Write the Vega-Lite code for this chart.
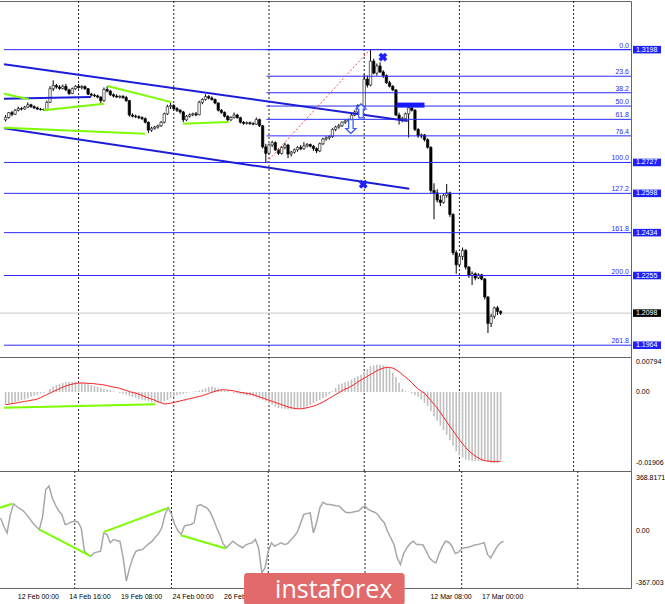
{
"$schema": "https://vega.github.io/schema/vega-lite/v6.json",
"padding": {"left": -6, "top": 0, "right": 0, "bottom": 0},
"background": "white",
"spacing": 0,
"bounds": "flush",
"config": {
 "view": {"stroke": "#666", "strokeWidth": 1},
 "axis": {"labelFont": "Liberation Sans", "labelFontSize": 7, "labelColor": "#000", "domainColor": "#000", "tickColor": "#000", "tickSize": 3, "grid": false, "labelPadding": 2, "labelOverlap": false, "labelFlush": false},
 "text": {"font": "Liberation Sans", "fontSize": 7},
 "concat": {"spacing": 0}
},
"datasets": {
 "gr": [{"i":23},{"i":53},{"i":83},{"i":113},{"i":143},{"i":179}],
 "xl": [{"i":5,"t":"12 Feb 00:00"},{"i":21,"t":"14 Feb 16:00"},{"i":37,"t":"19 Feb 08:00"},{"i":53,"t":"24 Feb 00:00"},{"i":69,"t":"26 Feb 16:00"},{"i":133,"t":"12 Mar 08:00"},{"i":149,"t":"17 Mar 00:00"}],
 "ml": [{"v":0.00794,"t":"0.00794"},{"v":0,"t":"0.00"},{"v":-0.01906,"t":"-0.01906"}],
 "cl": [{"v":368.8171,"t":"368.8171"},{"v":0,"t":"0.00"},{"v":-367.003,"t":"-367.003"}],
 "lv": [
  {"p":1.3198,"from":-0.5,"lbl":null},
  {"p":1.3198,"from":82.2,"lbl":"0.0"},
  {"p":1.3087,"from":82.2,"lbl":"23.6"},
  {"p":1.3018,"from":82.2,"lbl":"38.2"},
  {"p":1.29625,"from":82.2,"lbl":"50.0"},
  {"p":1.2907,"from":82.2,"lbl":"61.8"},
  {"p":1.2838,"from":82.2,"lbl":"76.4"},
  {"p":1.2727,"from":-0.5,"lbl":"100.0"},
  {"p":1.2598,"from":-0.5,"lbl":"127.2"},
  {"p":1.2434,"from":-0.5,"lbl":"161.8"},
  {"p":1.2255,"from":-0.5,"lbl":"200.0"},
  {"p":1.1964,"from":-0.5,"lbl":"261.8"}
 ],
 "tags": [
  {"p":1.3198,"t":"1.3198","k":"b"},
  {"p":1.2727,"t":"1.2727","k":"b"},
  {"p":1.2598,"t":"1.2598","k":"b"},
  {"p":1.2434,"t":"1.2434","k":"b"},
  {"p":1.2255,"t":"1.2255","k":"b"},
  {"p":1.1964,"t":"1.1964","k":"b"},
  {"p":1.2098,"t":"1.2098","k":"k"}
 ],
 "zone": [{"i1":123.3,"i2":132,"p1":1.2956,"p2":1.2977}],
 "ps": [
  {"s":"g1","i":-0.5,"p":1.3014,"c":"g"},{"s":"g1","i":7.3,"p":1.2991,"c":"g"},
  {"s":"b1","i":-0.5,"p":1.2993,"c":"b"},{"s":"b1","i":26.9,"p":1.3000,"c":"b"},
  {"s":"g2","i":11.9,"p":1.2945,"c":"g"},{"s":"g2","i":31.0,"p":1.2972,"c":"g"},
  {"s":"g3","i":32.1,"p":1.3046,"c":"g"},{"s":"g3","i":52.2,"p":1.2979,"c":"g"},
  {"s":"g4","i":-0.5,"p":1.2872,"c":"g"},{"s":"g4","i":43.9,"p":1.2847,"c":"g"},
  {"s":"g5","i":55.9,"p":1.2889,"c":"g"},{"s":"g5","i":70.3,"p":1.2896,"c":"g"},
  {"s":"u","i":-0.5,"p":1.3137,"c":"b"},{"s":"u","i":126.7,"p":1.2900,"c":"b"},
  {"s":"d","i":-0.5,"p":1.2870,"c":"b"},{"s":"d","i":127.2,"p":1.2617,"c":"b"},
  {"s":"r","i":82.2,"p":1.2727,"c":"r"},{"s":"r","i":114.8,"p":1.3198,"c":"r"}
 ],
 "mk": [
  {"t":"up","i":112,"p":1.2942},
  {"t":"dn","i":108.8,"p":1.2877},
  {"t":"x","i":118.9,"p":1.3167},
  {"t":"x","i":112.7,"p":1.2636}
 ],
 "ms": [{"i":-0.5,"v":-0.0042},{"i":47.1,"v":-0.0033}],
 "cs": [
  {"s":1,"i":-0.5,"v":160},{"s":1,"i":3.6,"v":189},
  {"s":2,"i":11.9,"v":9},{"s":2,"i":27.9,"v":-178},
  {"s":3,"i":32.1,"v":-8},{"s":3,"i":52,"v":160},
  {"s":4,"i":55.9,"v":-31},{"s":4,"i":69.8,"v":-124}
 ],
 "k": [
{"i":0,"o":1.2905,"h":1.2925,"l":1.2898,"c":1.2915,"m":-0.0034,"s":-0.0034,"cci":90},
{"i":1,"o":1.2915,"h":1.2938,"l":1.2910,"c":1.2935,"m":-0.0032,"s":-0.0033,"cci":30},
{"i":2,"o":1.2935,"h":1.2942,"l":1.2920,"c":1.2928,"m":-0.0030,"s":-0.0031,"cci":-15},
{"i":3,"o":1.2928,"h":1.2950,"l":1.2925,"c":1.2945,"m":-0.0027,"s":-0.0030,"cci":110},
{"i":4,"o":1.2945,"h":1.2960,"l":1.2940,"c":1.2952,"m":-0.0024,"s":-0.0028,"cci":189},
{"i":5,"o":1.2952,"h":1.2958,"l":1.2944,"c":1.2950,"m":-0.0022,"s":-0.0027,"cci":170},
{"i":6,"o":1.2950,"h":1.2963,"l":1.2947,"c":1.2958,"m":-0.0020,"s":-0.0025,"cci":155},
{"i":7,"o":1.2958,"h":1.2978,"l":1.2955,"c":1.2968,"m":-0.0017,"s":-0.0024,"cci":140},
{"i":8,"o":1.2968,"h":1.2972,"l":1.2955,"c":1.2960,"m":-0.0013,"s":-0.0022,"cci":115},
{"i":9,"o":1.2960,"h":1.2965,"l":1.2950,"c":1.2955,"m":-0.0010,"s":-0.0021,"cci":85},
{"i":10,"o":1.2955,"h":1.2960,"l":1.2946,"c":1.2950,"m":-0.0007,"s":-0.0019,"cci":55},
{"i":11,"o":1.2950,"h":1.2955,"l":1.2944,"c":1.2948,"m":-0.0004,"s":-0.0015,"cci":30},
{"i":12,"o":1.2948,"h":1.2952,"l":1.2943,"c":1.2946,"m":-0.0002,"s":-0.0011,"cci":9},
{"i":13,"o":1.2946,"h":1.2985,"l":1.2944,"c":1.2978,"m":0.0001,"s":-0.0007,"cci":95},
{"i":14,"o":1.2978,"h":1.3045,"l":1.2975,"c":1.3035,"m":0.0008,"s":-0.0003,"cci":289},
{"i":15,"o":1.3035,"h":1.3070,"l":1.3025,"c":1.3048,"m":0.0015,"s":0.0001,"cci":313},
{"i":16,"o":1.3048,"h":1.3055,"l":1.3035,"c":1.3042,"m":0.0019,"s":0.0005,"cci":231},
{"i":17,"o":1.3042,"h":1.3050,"l":1.3030,"c":1.3036,"m":0.0022,"s":0.0009,"cci":180},
{"i":18,"o":1.3036,"h":1.3052,"l":1.3032,"c":1.3045,"m":0.0024,"s":0.0013,"cci":140},
{"i":19,"o":1.3045,"h":1.3055,"l":1.3025,"c":1.3030,"m":0.0026,"s":0.0016,"cci":114},
{"i":20,"o":1.3030,"h":1.3035,"l":1.3008,"c":1.3015,"m":0.0027,"s":0.0019,"cci":44},
{"i":21,"o":1.3015,"h":1.3040,"l":1.3012,"c":1.3035,"m":0.0027,"s":0.0021,"cci":50},
{"i":22,"o":1.3035,"h":1.3050,"l":1.3030,"c":1.3045,"m":0.0027,"s":0.0023,"cci":62},
{"i":23,"o":1.3045,"h":1.3055,"l":1.3035,"c":1.3040,"m":0.0026,"s":0.0024,"cci":68},
{"i":24,"o":1.3040,"h":1.3050,"l":1.3032,"c":1.3044,"m":0.0025,"s":0.0024,"cci":60},
{"i":25,"o":1.3044,"h":1.3048,"l":1.3030,"c":1.3035,"m":0.0023,"s":0.0024,"cci":20},
{"i":26,"o":1.3035,"h":1.3038,"l":1.3008,"c":1.3012,"m":0.0021,"s":0.0023,"cci":-143},
{"i":27,"o":1.3012,"h":1.3018,"l":1.3002,"c":1.3008,"m":0.0019,"s":0.0023,"cci":-165},
{"i":28,"o":1.3008,"h":1.3014,"l":1.3000,"c":1.3005,"m":0.0016,"s":0.0022,"cci":-178},
{"i":29,"o":1.3005,"h":1.3010,"l":1.2995,"c":1.3000,"m":0.0014,"s":0.0021,"cci":-155},
{"i":30,"o":1.3000,"h":1.3004,"l":1.2972,"c":1.2985,"m":0.0011,"s":0.0020,"cci":-148},
{"i":31,"o":1.2985,"h":1.3040,"l":1.2980,"c":1.3032,"m":0.0009,"s":0.0019,"cci":-143},
{"i":32,"o":1.3032,"h":1.3046,"l":1.3020,"c":1.3025,"m":0.0007,"s":0.0017,"cci":-15},
{"i":33,"o":1.3025,"h":1.3030,"l":1.3005,"c":1.3010,"m":0.0005,"s":0.0015,"cci":-26},
{"i":34,"o":1.3010,"h":1.3015,"l":1.2998,"c":1.3004,"m":0.0002,"s":0.0013,"cci":-84},
{"i":35,"o":1.3004,"h":1.3012,"l":1.2996,"c":1.3000,"m":0.0000,"s":0.0012,"cci":-61},
{"i":36,"o":1.3000,"h":1.3008,"l":1.2994,"c":1.3003,"m":-0.0003,"s":0.0010,"cci":-68},
{"i":37,"o":1.3003,"h":1.3008,"l":1.2992,"c":1.2998,"m":-0.0005,"s":0.0007,"cci":-73},
{"i":38,"o":1.2998,"h":1.3005,"l":1.2980,"c":1.2985,"m":-0.0007,"s":0.0004,"cci":-190},
{"i":39,"o":1.2985,"h":1.2988,"l":1.2918,"c":1.2925,"m":-0.0010,"s":0.0001,"cci":-353},
{"i":40,"o":1.2925,"h":1.2932,"l":1.2915,"c":1.2920,"m":-0.0013,"s":-0.0001,"cci":-260},
{"i":41,"o":1.2920,"h":1.2927,"l":1.2912,"c":1.2918,"m":-0.0015,"s":-0.0003,"cci":-190},
{"i":42,"o":1.2918,"h":1.2924,"l":1.2908,"c":1.2914,"m":-0.0018,"s":-0.0006,"cci":-143},
{"i":43,"o":1.2914,"h":1.2920,"l":1.2904,"c":1.2910,"m":-0.0020,"s":-0.0009,"cci":-135},
{"i":44,"o":1.2910,"h":1.2915,"l":1.2890,"c":1.2895,"m":-0.0023,"s":-0.0013,"cci":-131},
{"i":45,"o":1.2895,"h":1.2898,"l":1.2850,"c":1.2862,"m":-0.0025,"s":-0.0016,"cci":-110},
{"i":46,"o":1.2862,"h":1.2876,"l":1.2855,"c":1.2870,"m":-0.0027,"s":-0.0019,"cci":-90},
{"i":47,"o":1.2870,"h":1.2880,"l":1.2864,"c":1.2875,"m":-0.0028,"s":-0.0022,"cci":-73},
{"i":48,"o":1.2875,"h":1.2885,"l":1.2868,"c":1.2880,"m":-0.0029,"s":-0.0026,"cci":-45},
{"i":49,"o":1.2880,"h":1.2900,"l":1.2875,"c":1.2895,"m":-0.0028,"s":-0.0029,"cci":-20},
{"i":50,"o":1.2895,"h":1.2935,"l":1.2890,"c":1.2930,"m":-0.0025,"s":-0.0032,"cci":21},
{"i":51,"o":1.2930,"h":1.2968,"l":1.2925,"c":1.2960,"m":-0.0021,"s":-0.0031,"cci":114},
{"i":52,"o":1.2960,"h":1.2977,"l":1.2950,"c":1.2965,"m":-0.0016,"s":-0.0030,"cci":161},
{"i":53,"o":1.2965,"h":1.2970,"l":1.2945,"c":1.2952,"m":-0.0012,"s":-0.0028,"cci":114},
{"i":54,"o":1.2952,"h":1.2958,"l":1.2938,"c":1.2945,"m":-0.0009,"s":-0.0026,"cci":44},
{"i":55,"o":1.2945,"h":1.2950,"l":1.2930,"c":1.2938,"m":-0.0007,"s":-0.0024,"cci":0},
{"i":56,"o":1.2938,"h":1.2942,"l":1.2895,"c":1.2905,"m":-0.0005,"s":-0.0022,"cci":-26},
{"i":57,"o":1.2905,"h":1.2925,"l":1.2900,"c":1.2920,"m":-0.0003,"s":-0.0020,"cci":33},
{"i":58,"o":1.2920,"h":1.2932,"l":1.2914,"c":1.2926,"m":-0.0001,"s":-0.0018,"cci":40},
{"i":59,"o":1.2926,"h":1.2935,"l":1.2920,"c":1.2930,"m":0.0001,"s":-0.0016,"cci":44},
{"i":60,"o":1.2930,"h":1.2938,"l":1.2920,"c":1.2926,"m":0.0002,"s":-0.0014,"cci":56},
{"i":61,"o":1.2926,"h":1.2985,"l":1.2924,"c":1.2978,"m":0.0004,"s":-0.0012,"cci":173},
{"i":62,"o":1.2978,"h":1.2995,"l":1.2970,"c":1.2990,"m":0.0007,"s":-0.0010,"cci":184},
{"i":63,"o":1.2990,"h":1.3012,"l":1.2985,"c":1.3002,"m":0.0010,"s":-0.0007,"cci":170},
{"i":64,"o":1.3002,"h":1.3008,"l":1.2990,"c":1.2996,"m":0.0013,"s":-0.0004,"cci":161},
{"i":65,"o":1.2996,"h":1.3003,"l":1.2985,"c":1.2990,"m":0.0015,"s":-0.0001,"cci":130},
{"i":66,"o":1.2990,"h":1.2994,"l":1.2970,"c":1.2975,"m":0.0012,"s":0.0002,"cci":80},
{"i":67,"o":1.2975,"h":1.2978,"l":1.2940,"c":1.2945,"m":0.0009,"s":0.0004,"cci":21},
{"i":68,"o":1.2945,"h":1.2950,"l":1.2930,"c":1.2936,"m":0.0006,"s":0.0006,"cci":-30},
{"i":69,"o":1.2936,"h":1.2940,"l":1.2915,"c":1.2920,"m":0.0004,"s":0.0006,"cci":-90},
{"i":70,"o":1.2920,"h":1.2924,"l":1.2900,"c":1.2905,"m":0.0002,"s":0.0005,"cci":-119},
{"i":71,"o":1.2905,"h":1.2920,"l":1.2900,"c":1.2915,"m":0.0000,"s":0.0004,"cci":-96},
{"i":72,"o":1.2915,"h":1.2935,"l":1.2910,"c":1.2925,"m":-0.0003,"s":0.0003,"cci":-73},
{"i":73,"o":1.2925,"h":1.2930,"l":1.2910,"c":1.2914,"m":-0.0004,"s":0.0001,"cci":-90},
{"i":74,"o":1.2914,"h":1.2918,"l":1.2890,"c":1.2895,"m":-0.0006,"s":-0.0001,"cci":-105},
{"i":75,"o":1.2895,"h":1.2900,"l":1.2884,"c":1.2890,"m":-0.0007,"s":-0.0002,"cci":-119},
{"i":76,"o":1.2890,"h":1.2898,"l":1.2885,"c":1.2893,"m":-0.0009,"s":-0.0004,"cci":-100},
{"i":77,"o":1.2893,"h":1.2898,"l":1.2884,"c":1.2889,"m":-0.0010,"s":-0.0005,"cci":-90},
{"i":78,"o":1.2889,"h":1.2895,"l":1.2882,"c":1.2887,"m":-0.0012,"s":-0.0007,"cci":-84},
{"i":79,"o":1.2887,"h":1.2915,"l":1.2884,"c":1.2906,"m":-0.0015,"s":-0.0010,"cci":-61},
{"i":80,"o":1.2906,"h":1.2910,"l":1.2875,"c":1.2880,"m":-0.0018,"s":-0.0013,"cci":-119},
{"i":81,"o":1.2880,"h":1.2884,"l":1.2785,"c":1.2792,"m":-0.0021,"s":-0.0016,"cci":-295},
{"i":82,"o":1.2792,"h":1.2805,"l":1.2727,"c":1.2765,"m":-0.0025,"s":-0.0019,"cci":-260},
{"i":83,"o":1.2765,"h":1.2806,"l":1.2760,"c":1.2800,"m":-0.0030,"s":-0.0022,"cci":-143},
{"i":84,"o":1.2800,"h":1.2818,"l":1.2792,"c":1.2810,"m":-0.0034,"s":-0.0025,"cci":-84},
{"i":85,"o":1.2810,"h":1.2815,"l":1.2775,"c":1.2780,"m":-0.0039,"s":-0.0028,"cci":-108},
{"i":86,"o":1.2780,"h":1.2786,"l":1.2758,"c":1.2765,"m":-0.0043,"s":-0.0031,"cci":-95},
{"i":87,"o":1.2765,"h":1.2796,"l":1.2760,"c":1.2790,"m":-0.0044,"s":-0.0034,"cci":-84},
{"i":88,"o":1.2790,"h":1.2810,"l":1.2782,"c":1.2800,"m":-0.0045,"s":-0.0037,"cci":-96},
{"i":89,"o":1.2800,"h":1.2805,"l":1.2745,"c":1.2762,"m":-0.0046,"s":-0.0040,"cci":-90},
{"i":90,"o":1.2762,"h":1.2775,"l":1.2752,"c":1.2770,"m":-0.0047,"s":-0.0042,"cci":-65},
{"i":91,"o":1.2770,"h":1.2785,"l":1.2764,"c":1.2780,"m":-0.0047,"s":-0.0044,"cci":-40},
{"i":92,"o":1.2780,"h":1.2795,"l":1.2772,"c":1.2790,"m":-0.0046,"s":-0.0045,"cci":-10},
{"i":93,"o":1.2790,"h":1.2800,"l":1.2778,"c":1.2784,"m":-0.0045,"s":-0.0045,"cci":50},
{"i":94,"o":1.2784,"h":1.2812,"l":1.2780,"c":1.2796,"m":-0.0043,"s":-0.0044,"cci":114},
{"i":95,"o":1.2796,"h":1.2808,"l":1.2790,"c":1.2802,"m":-0.0039,"s":-0.0042,"cci":120},
{"i":96,"o":1.2802,"h":1.2806,"l":1.2790,"c":1.2795,"m":-0.0035,"s":-0.0040,"cci":126},
{"i":97,"o":1.2795,"h":1.2800,"l":1.2775,"c":1.2785,"m":-0.0030,"s":-0.0038,"cci":-15},
{"i":98,"o":1.2785,"h":1.2790,"l":1.2766,"c":1.2775,"m":-0.0025,"s":-0.0035,"cci":56},
{"i":99,"o":1.2775,"h":1.2810,"l":1.2770,"c":1.2805,"m":-0.0021,"s":-0.0031,"cci":161},
{"i":100,"o":1.2805,"h":1.2830,"l":1.2800,"c":1.2825,"m":-0.0016,"s":-0.0027,"cci":200},
{"i":101,"o":1.2825,"h":1.2836,"l":1.2818,"c":1.2830,"m":-0.0012,"s":-0.0022,"cci":185},
{"i":102,"o":1.2830,"h":1.2840,"l":1.2822,"c":1.2835,"m":-0.0005,"s":-0.0017,"cci":184},
{"i":103,"o":1.2835,"h":1.2870,"l":1.2830,"c":1.2865,"m":0.0002,"s":-0.0012,"cci":180},
{"i":104,"o":1.2865,"h":1.2880,"l":1.2858,"c":1.2875,"m":0.0011,"s":-0.0007,"cci":175},
{"i":105,"o":1.2875,"h":1.2888,"l":1.2868,"c":1.2880,"m":0.0020,"s":-0.0002,"cci":173},
{"i":106,"o":1.2880,"h":1.2898,"l":1.2875,"c":1.2895,"m":0.0023,"s":0.0003,"cci":150},
{"i":107,"o":1.2895,"h":1.2905,"l":1.2888,"c":1.2900,"m":0.0026,"s":0.0008,"cci":130},
{"i":108,"o":1.2900,"h":1.2910,"l":1.2895,"c":1.2905,"m":0.0029,"s":0.0011,"cci":126},
{"i":109,"o":1.2905,"h":1.2930,"l":1.2900,"c":1.2925,"m":0.0033,"s":0.0016,"cci":130},
{"i":110,"o":1.2925,"h":1.2945,"l":1.2920,"c":1.2938,"m":0.0037,"s":0.0021,"cci":135},
{"i":111,"o":1.2938,"h":1.2970,"l":1.2932,"c":1.2965,"m":0.0042,"s":0.0027,"cci":138},
{"i":112,"o":1.2965,"h":1.2972,"l":1.2950,"c":1.2958,"m":0.0046,"s":0.0032,"cci":160},
{"i":113,"o":1.2958,"h":1.3095,"l":1.2955,"c":1.3075,"m":0.0054,"s":0.0037,"cci":173},
{"i":114,"o":1.3075,"h":1.3090,"l":1.3040,"c":1.3050,"m":0.0062,"s":0.0042,"cci":149},
{"i":115,"o":1.3050,"h":1.3198,"l":1.3045,"c":1.3150,"m":0.0069,"s":0.0047,"cci":138},
{"i":116,"o":1.3150,"h":1.3160,"l":1.3095,"c":1.3100,"m":0.0071,"s":0.0052,"cci":130},
{"i":117,"o":1.3100,"h":1.3140,"l":1.3090,"c":1.3130,"m":0.0073,"s":0.0057,"cci":114},
{"i":118,"o":1.3130,"h":1.3145,"l":1.3100,"c":1.3105,"m":0.0073,"s":0.0061,"cci":80},
{"i":119,"o":1.3105,"h":1.3112,"l":1.3080,"c":1.3090,"m":0.0071,"s":0.0064,"cci":56},
{"i":120,"o":1.3090,"h":1.3095,"l":1.3055,"c":1.3060,"m":0.0068,"s":0.0066,"cci":-5},
{"i":121,"o":1.3060,"h":1.3068,"l":1.3040,"c":1.3045,"m":0.0064,"s":0.0066,"cci":-50},
{"i":122,"o":1.3045,"h":1.3050,"l":1.3025,"c":1.3030,"m":0.0052,"s":0.0064,"cci":-96},
{"i":123,"o":1.3030,"h":1.3033,"l":1.2920,"c":1.2925,"m":0.0040,"s":0.0060,"cci":-190},
{"i":124,"o":1.2925,"h":1.2935,"l":1.2885,"c":1.2905,"m":0.0025,"s":0.0054,"cci":-236},
{"i":125,"o":1.2905,"h":1.2918,"l":1.2895,"c":1.2910,"m":0.0008,"s":0.0047,"cci":-160},
{"i":126,"o":1.2910,"h":1.2935,"l":1.2905,"c":1.2930,"m":0.0002,"s":0.0040,"cci":-119},
{"i":127,"o":1.2930,"h":1.2965,"l":1.2831,"c":1.2955,"m":0.0001,"s":0.0033,"cci":-90},
{"i":128,"o":1.2955,"h":1.2962,"l":1.2940,"c":1.2945,"m":-0.0003,"s":0.0025,"cci":-73},
{"i":129,"o":1.2945,"h":1.2950,"l":1.2858,"c":1.2865,"m":-0.0008,"s":0.0016,"cci":-96},
{"i":130,"o":1.2865,"h":1.2870,"l":1.2830,"c":1.2838,"m":-0.0013,"s":0.0008,"cci":-96},
{"i":131,"o":1.2838,"h":1.2848,"l":1.2828,"c":1.2842,"m":-0.0020,"s":0.0002,"cci":-100},
{"i":132,"o":1.2842,"h":1.2846,"l":1.2815,"c":1.2822,"m":-0.0030,"s":-0.0003,"cci":-143},
{"i":133,"o":1.2822,"h":1.2828,"l":1.2785,"c":1.2790,"m":-0.0038,"s":-0.0013,"cci":-190},
{"i":134,"o":1.2790,"h":1.2795,"l":1.2600,"c":1.2610,"m":-0.0051,"s":-0.0023,"cci":-213},
{"i":135,"o":1.2610,"h":1.2640,"l":1.2490,"c":1.2600,"m":-0.0065,"s":-0.0033,"cci":-225},
{"i":136,"o":1.2600,"h":1.2615,"l":1.2560,"c":1.2570,"m":-0.0078,"s":-0.0043,"cci":-160},
{"i":137,"o":1.2570,"h":1.2590,"l":1.2545,"c":1.2560,"m":-0.0090,"s":-0.0055,"cci":-110},
{"i":138,"o":1.2560,"h":1.2595,"l":1.2555,"c":1.2590,"m":-0.0102,"s":-0.0067,"cci":-73},
{"i":139,"o":1.2590,"h":1.2637,"l":1.2580,"c":1.2600,"m":-0.0114,"s":-0.0080,"cci":-80},
{"i":140,"o":1.2600,"h":1.2605,"l":1.2500,"c":1.2510,"m":-0.0129,"s":-0.0092,"cci":-108},
{"i":141,"o":1.2510,"h":1.2515,"l":1.2340,"c":1.2350,"m":-0.0144,"s":-0.0104,"cci":-160},
{"i":142,"o":1.2350,"h":1.2360,"l":1.2262,"c":1.2300,"m":-0.0159,"s":-0.0116,"cci":-150},
{"i":143,"o":1.2300,"h":1.2345,"l":1.2290,"c":1.2335,"m":-0.0170,"s":-0.0128,"cci":-125},
{"i":144,"o":1.2335,"h":1.2372,"l":1.2320,"c":1.2360,"m":-0.0176,"s":-0.0139,"cci":-119},
{"i":145,"o":1.2360,"h":1.2365,"l":1.2280,"c":1.2290,"m":-0.0181,"s":-0.0149,"cci":-115},
{"i":146,"o":1.2290,"h":1.2295,"l":1.2245,"c":1.2255,"m":-0.0183,"s":-0.0158,"cci":-108},
{"i":147,"o":1.2255,"h":1.2272,"l":1.2215,"c":1.2262,"m":-0.0184,"s":-0.0165,"cci":-100},
{"i":148,"o":1.2262,"h":1.2268,"l":1.2235,"c":1.2245,"m":-0.0185,"s":-0.0172,"cci":-96},
{"i":149,"o":1.2245,"h":1.2265,"l":1.2240,"c":1.2258,"m":-0.0185,"s":-0.0177,"cci":-90},
{"i":150,"o":1.2258,"h":1.2262,"l":1.2235,"c":1.2240,"m":-0.0185,"s":-0.0181,"cci":-84},
{"i":151,"o":1.2240,"h":1.2245,"l":1.2155,"c":1.2165,"m":-0.0186,"s":-0.0184,"cci":-166},
{"i":152,"o":1.2165,"h":1.2170,"l":1.2015,"c":1.2055,"m":-0.0188,"s":-0.0185,"cci":-190},
{"i":153,"o":1.2055,"h":1.2095,"l":1.2040,"c":1.2085,"m":-0.0190,"s":-0.0186,"cci":-150},
{"i":154,"o":1.2085,"h":1.2125,"l":1.2075,"c":1.2120,"m":-0.0191,"s":-0.0186,"cci":-110},
{"i":155,"o":1.2120,"h":1.2128,"l":1.2090,"c":1.2105,"m":-0.0190,"s":-0.0186,"cci":-84},
{"i":156,"o":1.2105,"h":1.2110,"l":1.2090,"c":1.2098,"m":-0.0183,"s":-0.0186,"cci":-73}
 ]
},
"vconcat": [
 {
  "width": 632, "height": 356,
  "layer": [
   {"data": {"name": "gr"}, "mark": {"type": "rule", "strokeDash": [2, 2], "color": "#222", "strokeWidth": 1},
    "encoding": {"x": {"field": "i", "type": "quantitative", "scale": {"domain": [-0.5, 195.5], "nice": false, "zero": false}, "axis": null}}},
   {"data": {"name": "tags"}, "transform": [{"filter": "datum.k == 'k'"}], "mark": {"type": "rule", "color": "#c8c8c8", "strokeWidth": 1},
    "encoding": {"y": {"field": "p", "type": "quantitative", "scale": {"domain": [1.19148, 1.34011], "nice": false, "zero": false}, "axis": null}}},
   {"data": {"name": "k"}, "mark": {"type": "rule", "color": "#000", "strokeWidth": 1},
    "encoding": {
     "x": {"field": "i", "type": "quantitative", "scale": {"domain": [-0.5, 195.5], "nice": false, "zero": false}, "axis": null},
     "y": {"field": "l", "type": "quantitative", "scale": {"domain": [1.19148, 1.34011], "nice": false, "zero": false},
           "axis": {"orient": "right", "title": null, "values": [1.328, 1.3165, 1.3055, 1.294, 1.2825, 1.271, 1.26, 1.249, 1.2375, 1.226, 1.215, 1.204, 1.193], "format": ".4f"}},
     "y2": {"field": "h"}}},
   {"data": {"name": "k"}, "mark": {"type": "bar", "width": 2.4, "stroke": "#000", "strokeWidth": 0.6},
    "encoding": {
     "x": {"field": "i", "type": "quantitative", "scale": {"domain": [-0.5, 195.5], "nice": false, "zero": false}, "axis": null},
     "y": {"field": "o", "type": "quantitative", "scale": {"domain": [1.19148, 1.34011], "nice": false, "zero": false}, "axis": null},
     "y2": {"field": "c"},
     "fill": {"condition": {"test": "datum.c >= datum.o", "value": "#ffffff"}, "value": "#000000"}}},
   {"data": {"name": "lv"}, "mark": {"type": "rule", "color": "#2b2bff", "strokeWidth": 1},
    "encoding": {
     "x": {"field": "from", "type": "quantitative", "scale": {"domain": [-0.5, 195.5], "nice": false, "zero": false}, "axis": null},
     "x2": {"value": "width"},
     "y": {"field": "p", "type": "quantitative", "scale": {"domain": [1.19148, 1.34011], "nice": false, "zero": false}, "axis": null}}},
   {"data": {"name": "zone"}, "mark": {"type": "rect", "color": "#1a1aff"},
    "encoding": {
     "x": {"field": "i1", "type": "quantitative", "scale": {"domain": [-0.5, 195.5], "nice": false, "zero": false}, "axis": null},
     "x2": {"field": "i2"},
     "y": {"field": "p1", "type": "quantitative", "scale": {"domain": [1.19148, 1.34011], "nice": false, "zero": false}, "axis": null},
     "y2": {"field": "p2"}}},
   {"data": {"name": "ps"}, "transform": [{"filter": "datum.c == 'b'"}], "mark": {"type": "line", "color": "#1d1dd8", "strokeWidth": 2},
    "encoding": {
     "x": {"field": "i", "type": "quantitative", "scale": {"domain": [-0.5, 195.5], "nice": false, "zero": false}, "axis": null},
     "y": {"field": "p", "type": "quantitative", "scale": {"domain": [1.19148, 1.34011], "nice": false, "zero": false}, "axis": null},
     "detail": {"field": "s"}}},
   {"data": {"name": "ps"}, "transform": [{"filter": "datum.c == 'g'"}], "mark": {"type": "line", "color": "#7cfc00", "strokeWidth": 2},
    "encoding": {
     "x": {"field": "i", "type": "quantitative", "scale": {"domain": [-0.5, 195.5], "nice": false, "zero": false}, "axis": null},
     "y": {"field": "p", "type": "quantitative", "scale": {"domain": [1.19148, 1.34011], "nice": false, "zero": false}, "axis": null},
     "detail": {"field": "s"}}},
   {"data": {"name": "ps"}, "transform": [{"filter": "datum.c == 'r'"}], "mark": {"type": "line", "color": "#ff4a4a", "strokeWidth": 1, "strokeDash": [2, 2]},
    "encoding": {
     "x": {"field": "i", "type": "quantitative", "scale": {"domain": [-0.5, 195.5], "nice": false, "zero": false}, "axis": null},
     "y": {"field": "p", "type": "quantitative", "scale": {"domain": [1.19148, 1.34011], "nice": false, "zero": false}, "axis": null},
     "detail": {"field": "s"}}},
   {"data": {"name": "mk"}, "transform": [{"filter": "datum.t == 'up'"}], "mark": {"type": "point", "filled": true, "opacity": 1, "fill": "#ffffff", "stroke": "#3355ff", "strokeWidth": 1.2, "size": 196, "shape": "M0,-1L0.72,-0.28L0.32,-0.28L0.32,1L-0.32,1L-0.32,-0.28L-0.72,-0.28Z"},
    "encoding": {
     "x": {"field": "i", "type": "quantitative", "scale": {"domain": [-0.5, 195.5], "nice": false, "zero": false}, "axis": null},
     "y": {"field": "p", "type": "quantitative", "scale": {"domain": [1.19148, 1.34011], "nice": false, "zero": false}, "axis": null}}},
   {"data": {"name": "mk"}, "transform": [{"filter": "datum.t == 'dn'"}], "mark": {"type": "point", "filled": true, "opacity": 1, "fill": "#ffffff", "stroke": "#3355ff", "strokeWidth": 1.2, "size": 196, "shape": "M0,1L0.72,0.28L0.32,0.28L0.32,-1L-0.32,-1L-0.32,0.28L-0.72,0.28Z"},
    "encoding": {
     "x": {"field": "i", "type": "quantitative", "scale": {"domain": [-0.5, 195.5], "nice": false, "zero": false}, "axis": null},
     "y": {"field": "p", "type": "quantitative", "scale": {"domain": [1.19148, 1.34011], "nice": false, "zero": false}, "axis": null}}},
   {"data": {"name": "mk"}, "transform": [{"filter": "datum.t == 'x'"}], "mark": {"type": "point", "filled": true, "opacity": 1, "color": "#1f1fff", "size": 80, "shape": "cross", "angle": 45},
    "encoding": {
     "x": {"field": "i", "type": "quantitative", "scale": {"domain": [-0.5, 195.5], "nice": false, "zero": false}, "axis": null},
     "y": {"field": "p", "type": "quantitative", "scale": {"domain": [1.19148, 1.34011], "nice": false, "zero": false}, "axis": null}}},
   {"data": {"name": "lv"}, "transform": [{"filter": "datum.lbl != null"}], "mark": {"type": "text", "align": "right", "baseline": "bottom", "dx": -2, "dy": -1, "color": "#2b2bff"},
    "encoding": {
     "x": {"value": "width"},
     "y": {"field": "p", "type": "quantitative", "scale": {"domain": [1.19148, 1.34011], "nice": false, "zero": false}, "axis": null},
     "text": {"field": "lbl"}}},
   {"data": {"name": "tags"}, "mark": {"type": "point", "filled": true, "opacity": 1, "size": 784, "shape": "M-1,-0.27L1,-0.27L1,0.27L-1,0.27Z", "xOffset": 16, "strokeWidth": 0},
    "encoding": {
     "x": {"value": "width"},
     "y": {"field": "p", "type": "quantitative", "scale": {"domain": [1.19148, 1.34011], "nice": false, "zero": false}, "axis": null},
     "fill": {"condition": {"test": "datum.k == 'k'", "value": "#000000"}, "value": "#1f1fff"}}},
   {"data": {"name": "tags"}, "mark": {"type": "text", "align": "left", "baseline": "middle", "dx": 5, "color": "#ffffff"},
    "encoding": {
     "x": {"value": "width"},
     "y": {"field": "p", "type": "quantitative", "scale": {"domain": [1.19148, 1.34011], "nice": false, "zero": false}, "axis": null},
     "text": {"field": "t"}}}
  ]
 },
 {
  "width": 632, "height": 114,
  "layer": [
   {"data": {"name": "gr"}, "mark": {"type": "rule", "strokeDash": [2, 2], "color": "#222", "strokeWidth": 1},
    "encoding": {"x": {"field": "i", "type": "quantitative", "scale": {"domain": [-0.5, 195.5], "nice": false, "zero": false}, "axis": null}}},
   {"data": {"name": "k"}, "mark": {"type": "bar", "width": 1.6, "color": "#c0c0c0"},
    "encoding": {
     "x": {"field": "i", "type": "quantitative", "scale": {"domain": [-0.5, 195.5], "nice": false, "zero": false}, "axis": null},
     "y": {"field": "m", "type": "quantitative", "scale": {"domain": [-0.02117, 0.00938], "nice": false, "zero": false},
           "axis": {"orient": "right", "title": null, "values": [0.00794, 0, -0.01906], "labels": false}},
     "y2": {"datum": 0}}},
   {"data": {"name": "k"}, "mark": {"type": "line", "color": "#ff2020", "strokeWidth": 1},
    "encoding": {
     "x": {"field": "i", "type": "quantitative", "scale": {"domain": [-0.5, 195.5], "nice": false, "zero": false}, "axis": null},
     "y": {"field": "s", "type": "quantitative", "scale": {"domain": [-0.02117, 0.00938], "nice": false, "zero": false}, "axis": null}}},
   {"data": {"name": "ms"}, "mark": {"type": "line", "color": "#7cfc00", "strokeWidth": 2},
    "encoding": {
     "x": {"field": "i", "type": "quantitative", "scale": {"domain": [-0.5, 195.5], "nice": false, "zero": false}, "axis": null},
     "y": {"field": "v", "type": "quantitative", "scale": {"domain": [-0.02117, 0.00938], "nice": false, "zero": false}, "axis": null}}},
   {"data": {"name": "ml"}, "mark": {"type": "text", "align": "left", "baseline": "middle", "dx": 5, "color": "#000000"},
    "encoding": {
     "x": {"value": "width"},
     "y": {"field": "v", "type": "quantitative", "scale": {"domain": [-0.02117, 0.00938], "nice": false, "zero": false}, "axis": null},
     "text": {"field": "t"}}}
  ]
 },
 {
  "width": 632, "height": 117,
  "layer": [
   {"data": {"name": "gr"}, "mark": {"type": "rule", "strokeDash": [2, 2], "color": "#222", "strokeWidth": 1},
    "encoding": {"x": {"field": "i", "type": "quantitative", "scale": {"domain": [-0.5, 195.5], "nice": false, "zero": false}, "axis": null}}},
   {"data": {"name": "k"}, "mark": {"type": "line", "color": "#a8a8a8", "strokeWidth": 1.5},
    "encoding": {
     "x": {"field": "i", "type": "quantitative", "scale": {"domain": [-0.5, 195.5], "nice": false, "zero": false},
           "axis": {"orient": "bottom", "title": null, "values": [5, 21, 37, 53, 69, 85, 101, 117, 133, 149], "labels": false}},
     "y": {"field": "cci", "type": "quantitative", "scale": {"domain": [-400.9, 418.7], "nice": false, "zero": false},
           "axis": {"orient": "right", "title": null, "values": [368.8171, 0, -367.003], "labels": false}}}},
   {"data": {"name": "cs"}, "mark": {"type": "line", "color": "#7cfc00", "strokeWidth": 2},
    "encoding": {
     "x": {"field": "i", "type": "quantitative", "scale": {"domain": [-0.5, 195.5], "nice": false, "zero": false}, "axis": null},
     "y": {"field": "v", "type": "quantitative", "scale": {"domain": [-400.9, 418.7], "nice": false, "zero": false}, "axis": null},
     "detail": {"field": "s"}}},
   {"data": {"name": "cl"}, "mark": {"type": "text", "align": "left", "baseline": "middle", "dx": 5, "color": "#000000"},
    "encoding": {
     "x": {"value": "width"},
     "y": {"field": "v", "type": "quantitative", "scale": {"domain": [-400.9, 418.7], "nice": false, "zero": false}, "axis": null},
     "text": {"field": "t"}}},
   {"data": {"name": "xl"}, "mark": {"type": "text", "align": "left", "baseline": "top", "dx": 1, "dy": 5, "color": "#000000"},
    "encoding": {
     "x": {"field": "i", "type": "quantitative", "scale": {"domain": [-0.5, 195.5], "nice": false, "zero": false}, "axis": null},
     "y": {"value": "height"},
     "text": {"field": "t"}}},
   {"data": {"values": [{"name": "instaforex"}]}, "mark": {"type": "rect", "color": "#e36a6a", "cornerRadius": 3},
    "encoding": {
     "x": {"datum": 75.5, "type": "quantitative", "scale": {"domain": [-0.5, 195.5], "nice": false, "zero": false}, "axis": null},
     "x2": {"datum": 125.3},
     "y": {"datum": -296, "type": "quantitative", "scale": {"domain": [-400.9, 418.7], "nice": false, "zero": false}, "axis": null},
     "y2": {"datum": -520}}},
   {"data": {"values": [{"name": "instaforex"}]}, "mark": {"type": "text", "font": "Open Sans", "fontSize": 25, "color": "#ffffff", "align": "center", "baseline": "alphabetic"},
    "encoding": {
     "x": {"datum": 103.3, "type": "quantitative", "scale": {"domain": [-0.5, 195.5], "nice": false, "zero": false}, "axis": null},
     "y": {"datum": -470, "type": "quantitative", "scale": {"domain": [-400.9, 418.7], "nice": false, "zero": false}, "axis": null},
     "text": {"field": "name"}}}
  ]
 }
]
}
